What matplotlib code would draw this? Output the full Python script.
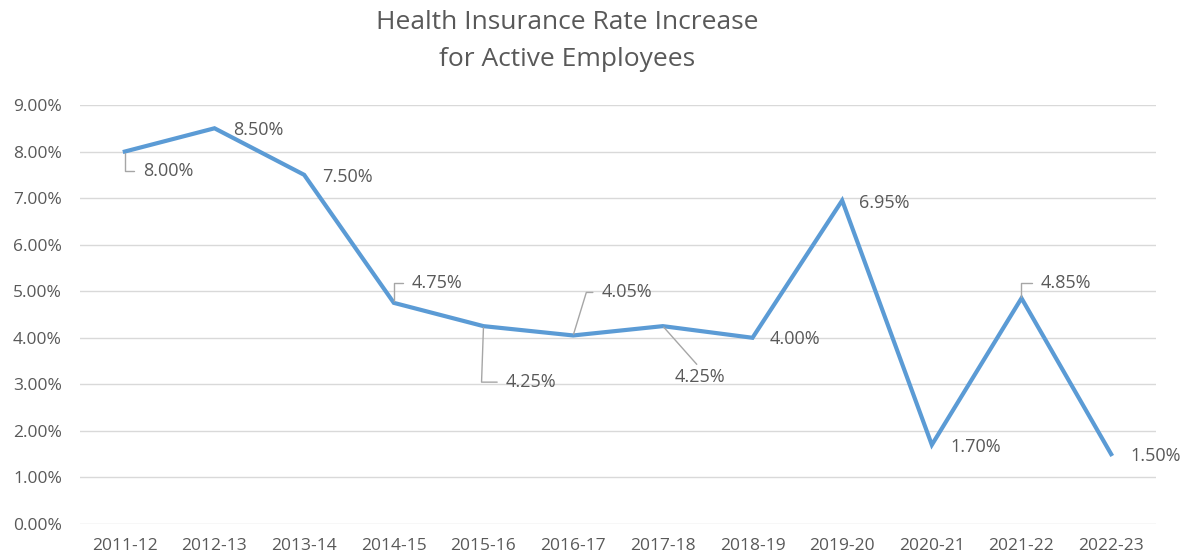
import matplotlib.pyplot as plt
from matplotlib.ticker import PercentFormatter

plt.rcParams['font.family'] = ['Open Sans', 'DejaVu Sans']

years = ["2011-12", "2012-13", "2013-14", "2014-15", "2015-16", "2016-17",
         "2017-18", "2018-19", "2019-20", "2020-21", "2021-22", "2022-23"]
rates = [8.00, 8.50, 7.50, 4.75, 4.25, 4.05, 4.25, 4.00, 6.95, 1.70, 4.85, 1.50]

# label offsets from each point (pixels, y up) and leader style
label_offsets = [(18, -19), (19, -2), (18, -2), (18, 20), (22, -56), (28, 43),
                 (12, -51), (17, -1), (17, -3), (19, -2), (19, 15), (19, -2)]
leaders = [
    "angle,angleA=0,angleB=90,rad=0", None, None,
    "angle,angleA=0,angleB=90,rad=0", "angle,angleA=0,angleB=88,rad=0",
    "angle,angleA=0,angleB=73,rad=0", "arc3", None, None, None,
    "angle,angleA=0,angleB=90,rad=0", None,
]

text_color = "#595959"
line_color = "#5B9BD5"

fig = plt.figure(figsize=(11.82, 5.59), dpi=100)
ax = fig.add_axes([80 / 1182, 1 - 524 / 559, 1076 / 1182, 419 / 559])

x = list(range(len(years)))
ax.plot(x, rates, color=line_color, linewidth=3, solid_joinstyle='miter', zorder=3)

ax.set_xlim(-0.5, len(years) - 0.5)
ax.set_ylim(0, 9)
ax.set_yticks(range(0, 10))
ax.yaxis.set_major_formatter(PercentFormatter(decimals=2))
ax.set_xticks(x)
ax.set_xticklabels(years)

ax.yaxis.grid(True, color="#D9D9D9", linewidth=1)
ax.set_axisbelow(True)
for s in ax.spines.values():
    s.set_visible(False)
ax.tick_params(axis='both', length=0, labelsize=12.5, colors=text_color)
ax.tick_params(axis='y', pad=13)
ax.tick_params(axis='x', pad=10)

px = 0.72  # points per pixel at 100 dpi
for i, (v, (dx, dy), conn) in enumerate(zip(rates, label_offsets, leaders)):
    arrow = None
    if conn == "arc3":
        arrow = dict(arrowstyle='-', color="#A6A6A6", lw=1,
                     connectionstyle="arc3", relpos=(0.5, 1.0),
                     shrinkA=1, shrinkB=1)
    elif conn is not None:
        arrow = dict(arrowstyle='-', color="#A6A6A6", lw=1,
                     connectionstyle=conn, relpos=(0.0, 0.5),
                     shrinkA=4, shrinkB=1)
    ax.annotate(f"{v:.2f}%", xy=(i, v), xytext=(dx * px, dy * px),
                textcoords='offset points', ha='left', va='center',
                fontsize=13, color=text_color, arrowprops=arrow, zorder=4)

fig.text(567 / 1182, 1 - 41 / 559, "Health Insurance Rate Increase\nfor Active Employees",
         ha='center', va='center', fontsize=19, color=text_color, linespacing=1.6)

plt.savefig('out.png', dpi=100)
plt.close()
